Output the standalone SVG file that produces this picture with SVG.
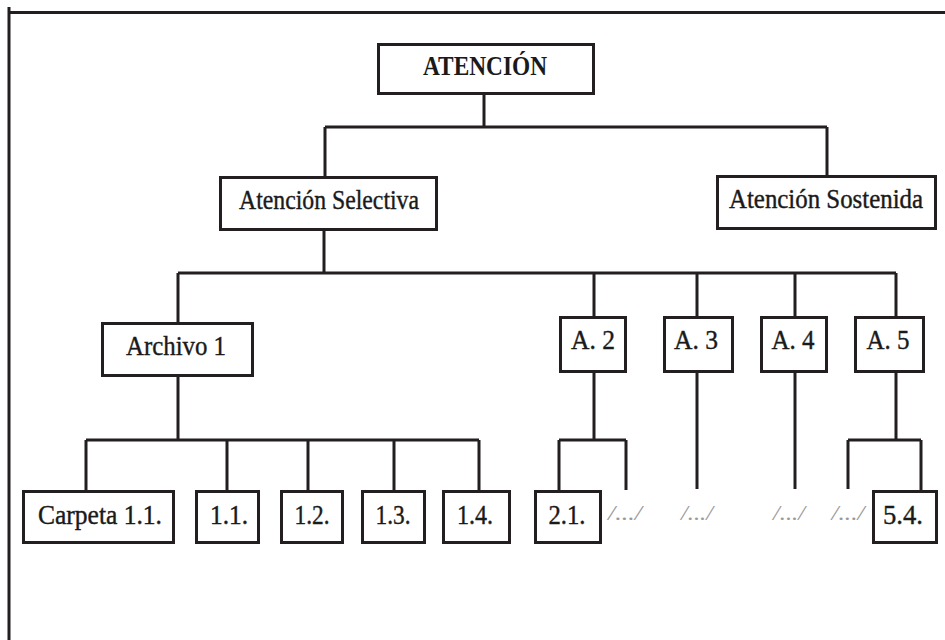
<svg xmlns="http://www.w3.org/2000/svg" width="945" height="640" viewBox="0 0 945 640">
<style>
.box{fill:#fff;stroke:#231f20;stroke-width:3}
.ln{fill:none;stroke:#231f20;stroke-width:3}
.t{font-family:"Liberation Serif","Times New Roman",serif;font-size:27px;fill:#1a1a1a;stroke:#1a1a1a;stroke-width:0.4;text-anchor:middle}
.b{font-weight:bold;stroke-width:0}
.g{font-family:"Liberation Serif","Times New Roman",serif;font-size:22px;font-style:italic;fill:#9a9a9a;text-anchor:middle}
</style>
<rect width="945" height="640" fill="#fff"/>
<g id="frame">
<line class="ln" x1="9" y1="7" x2="9" y2="640"/>
<line class="ln" x1="9" y1="12.5" x2="945" y2="12.5" stroke-width="3.5"/>
</g>
<g id="connectors">
<path class="ln" d="M484 94V127M325 127H827M325 127V177M827 127V176"/>
<path class="ln" d="M324 230V273M178 273H896M178 273V323M594 273V317M697 273V317M795 273V317M896 273V317"/>
<path class="ln" d="M178 376V440M86 440H479M86 440V491M227 440V491M308 440V491M394 440V491M479 440V491"/>
<path class="ln" d="M594 372V440M559 440H626M559 440V491M626 440V490"/>
<path class="ln" d="M697 372V489"/>
<path class="ln" d="M795 372V489"/>
<path class="ln" d="M896 372V440M848 440H921M848 440V489M921 440V491"/>
</g>
<g id="n-atencion"><rect class="box" x="378.5" y="44.5" width="215" height="49"/><text class="t b" x="485" y="75" textLength="124" lengthAdjust="spacingAndGlyphs">ATENCIÓN</text></g>
<g id="n-selectiva"><rect class="box" x="220.5" y="177.5" width="216" height="52"/><text class="t" x="329" y="209" textLength="180" lengthAdjust="spacingAndGlyphs">Atención Selectiva</text></g>
<g id="n-sostenida"><rect class="box" x="717.5" y="176.5" width="218" height="52"/><text class="t" x="826" y="208" textLength="194" lengthAdjust="spacingAndGlyphs">Atención Sostenida</text></g>
<g id="n-archivo1"><rect class="box" x="102.5" y="323.5" width="150" height="52"/><text class="t" x="176" y="355" textLength="100" lengthAdjust="spacingAndGlyphs">Archivo 1</text></g>
<g id="n-a2"><rect class="box" x="560.5" y="317.5" width="65" height="54"/><text class="t" x="593" y="349" textLength="44" lengthAdjust="spacingAndGlyphs">A. 2</text></g>
<g id="n-a3"><rect class="box" x="664.5" y="317.5" width="68" height="54"/><text class="t" x="696" y="349" textLength="44" lengthAdjust="spacingAndGlyphs">A. 3</text></g>
<g id="n-a4"><rect class="box" x="761.5" y="317.5" width="65" height="54"/><text class="t" x="793" y="349" textLength="43" lengthAdjust="spacingAndGlyphs">A. 4</text></g>
<g id="n-a5"><rect class="box" x="855.5" y="317.5" width="68" height="54"/><text class="t" x="888" y="349" textLength="43" lengthAdjust="spacingAndGlyphs">A. 5</text></g>
<g id="n-carpeta"><rect class="box" x="23.5" y="491.5" width="150" height="51"/><text class="t" x="100" y="524" textLength="124" lengthAdjust="spacingAndGlyphs">Carpeta 1.1.</text></g>
<g id="n-11"><rect class="box" x="196.5" y="491.5" width="62" height="51"/><text class="t" x="229" y="524" textLength="38" lengthAdjust="spacingAndGlyphs">1.1.</text></g>
<g id="n-12"><rect class="box" x="281.5" y="491.5" width="61" height="51"/><text class="t" x="312" y="524" textLength="35" lengthAdjust="spacingAndGlyphs">1.2.</text></g>
<g id="n-13"><rect class="box" x="362.5" y="491.5" width="62" height="51"/><text class="t" x="393" y="524" textLength="35" lengthAdjust="spacingAndGlyphs">1.3.</text></g>
<g id="n-14"><rect class="box" x="443.5" y="491.5" width="66" height="51"/><text class="t" x="475" y="524" textLength="36" lengthAdjust="spacingAndGlyphs">1.4.</text></g>
<g id="n-21"><rect class="box" x="535.5" y="491.5" width="65" height="51"/><text class="t" x="567" y="524" textLength="37" lengthAdjust="spacingAndGlyphs">2.1.</text></g>
<g id="n-54"><rect class="box" x="873.5" y="491.5" width="63" height="51"/><text class="t" x="903" y="524" textLength="40" lengthAdjust="spacingAndGlyphs">5.4.</text></g>
<g id="n-e2"><text class="g" x="625" y="520" textLength="34" lengthAdjust="spacingAndGlyphs">/.../</text></g>
<g id="n-e3"><text class="g" x="697" y="520" textLength="32" lengthAdjust="spacingAndGlyphs">/.../</text></g>
<g id="n-e4"><text class="g" x="789" y="520" textLength="32" lengthAdjust="spacingAndGlyphs">/.../</text></g>
<g id="n-e5"><text class="g" x="848" y="520" textLength="33" lengthAdjust="spacingAndGlyphs">/.../</text></g>
</svg>
